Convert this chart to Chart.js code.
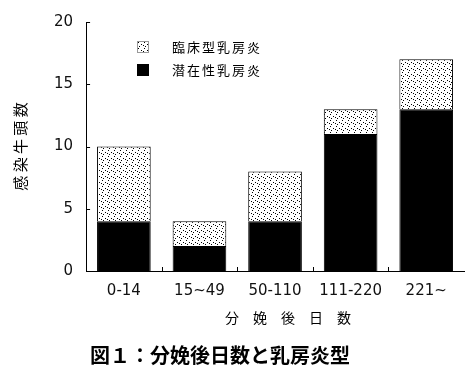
<!DOCTYPE html>
<html>
<head>
<meta charset="utf-8">
<script src="https://cdn.jsdelivr.net/npm/chart.js@4/dist/chart.umd.min.js"></script>
<style>
  html, body { margin: 0; padding: 0; background: #fff; }
  #wrap { width: 476px; height: 386px; position: relative; }
  #wrap canvas { position: absolute; left: 0; top: 0; }
  .lbl { position: absolute; color: #000; white-space: nowrap; font-family: "Noto Sans CJK JP", sans-serif; }
  #xtitle { left: 225px; top: 307px; font-size: 14px; line-height: 20px; }
  #caption { left: 90px; top: 342px; font-size: 20px; line-height: 26px; font-weight: bold; }
</style>
</head>
<body>
<div id="wrap">
  <canvas id="ChartCanvas1" width="476" height="386"></canvas>
  <div class="lbl" id="xtitle"></div>
  <div class="lbl" id="caption"></div>
</div>
<script>
// data
const categories = ['0-14', '15~49', '50-110', '111-220', '221~'];
const latentCounts = [4, 2, 4, 11, 13];      // 潜在性乳房炎 (black)
const clinicalCounts = [6, 2, 4, 2, 4];      // 臨床型乳房炎 (dotted)
const yTicks = [0, 5, 10, 15, 20];

const legendLabels = ['臨床型乳房炎', '潜在性乳房炎'];
const xTitle = '分　娩　後　日　数';
const yTitle = '感 染 牛 頭 数';
const caption = '図１：分娩後日数と乳房炎型';

document.getElementById('xtitle').textContent = xTitle;
document.getElementById('caption').textContent = caption;

const jpFont = '"Noto Sans CJK JP", sans-serif';
const numFont = '"DejaVu Sans", sans-serif';

// sparse dot pattern for the clinical series
function makeDots()
{
    const c = document.createElement('canvas');
    c.width = 6; c.height = 6;
    const g = c.getContext('2d');
    g.fillStyle = '#fff';
    g.fillRect(0, 0, 6, 6);
    g.fillStyle = '#000';
    g.fillRect(0, 0, 1, 1);
    g.fillRect(3, 2, 1, 1);
    g.fillRect(1, 4, 1, 1);
    g.fillRect(5, 3, 1, 1);
    return g.createPattern(c, 'repeat');
}
const dots = makeDots();

// inward tick marks + legend drawn inside the plot
const extras = {
    id: 'extras',
    afterDraw(chart)
    {
        const ctx = chart.ctx;
        const y = chart.scales.y, x = chart.scales.x;
        ctx.save();
        ctx.strokeStyle = '#000';
        ctx.lineWidth = 1;
        yTicks.forEach(v => {
            const py = Math.round(y.getPixelForValue(v)) + 0.5;
            ctx.beginPath();
            ctx.moveTo(x.left, py);
            ctx.lineTo(x.left + 4, py);
            ctx.stroke();
        });
        for (let i = 1; i < categories.length; i++)
        {
            const px = Math.round((x.getPixelForValue(i - 1) + x.getPixelForValue(i)) / 2) + 0.5;
            ctx.beginPath();
            ctx.moveTo(px, y.bottom);
            ctx.lineTo(px, y.bottom - 4);
            ctx.stroke();
        }
        // legend
        const fills = [dots, '#000'];
        ctx.font = '13px ' + jpFont;
        ctx.textBaseline = 'middle';
        legendLabels.forEach((lab, i) => {
            const ly = 47 + i * 23;
            ctx.fillStyle = fills[i];
            ctx.fillRect(137, ly - 6, 12, 12);
            ctx.strokeStyle = i === 0 ? '#999' : '#000';
            ctx.strokeRect(137.5, ly - 5.5, 11, 11);
            ctx.fillStyle = '#000';
            let tx = 172;
            for (const ch of lab)
            {
                ctx.fillText(ch, tx, ly);
                tx += 15;
            }
        });
        ctx.restore();
    }
};

new Chart(document.getElementById('ChartCanvas1').getContext('2d'), {
    type: 'bar',
    data: {
        labels: categories,
        datasets: [
            {
                label: legendLabels[1],
                data: latentCounts,
                backgroundColor: '#000',
                borderColor: '#000',
                borderWidth: 1
            },
            {
                label: legendLabels[0],
                data: clinicalCounts,
                backgroundColor: dots,
                borderColor: '#000',
                borderWidth: 1
            }
        ]
    },
    options: {
        responsive: false,
        animation: false,
        devicePixelRatio: 1,
        layout: { padding: { top: 8, right: 12, left: 6, bottom: 75 } },
        datasets: { bar: { categoryPercentage: 1, barPercentage: 0.71 } },
        plugins: {
            legend: { display: false },
            tooltip: { enabled: false }
        },
        scales: {
            x: {
                stacked: true,
                grid: { display: false, drawTicks: false },
                border: { display: true, color: '#000', width: 1 },
                ticks: { color: '#111', font: { family: numFont, size: 15 }, padding: 11, maxRotation: 0 }
            },
            y: {
                stacked: true,
                min: 0,
                max: 20,
                grid: { display: false, drawTicks: false },
                border: { display: true, color: '#000', width: 1 },
                afterBuildTicks: s => { s.ticks = yTicks.map(v => ({ value: v })); },
                ticks: { color: '#111', font: { family: numFont, size: 15 }, padding: 13 },
                title: {
                    display: true,
                    text: yTitle,
                    color: '#000',
                    font: { family: jpFont, size: 15 },
                    padding: { top: 5, bottom: 12 }
                }
            }
        }
    },
    plugins: [extras]
});
</script>
</body>
</html>
